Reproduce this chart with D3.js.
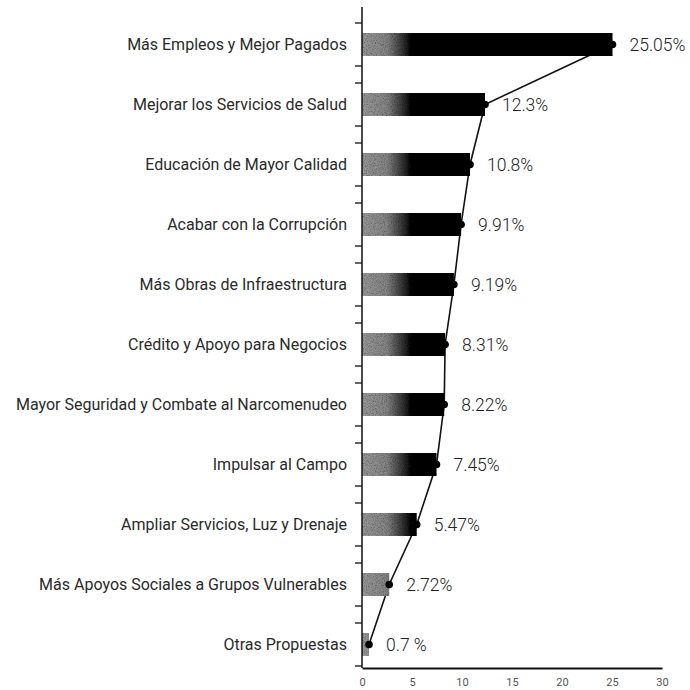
<!DOCTYPE html>
<html>
<head>
<meta charset="utf-8">
<script src="https://cdn.jsdelivr.net/npm/d3@7"></script>
<style>
  body { margin: 0; background: #fff; }
  text { font-family: Roboto, "Noto Sans", sans-serif; }
</style>
</head>
<body>
<svg id="chart" width="690" height="690"></svg>
<script>
var categories = [
  "Más Empleos y Mejor Pagados",
  "Mejorar los Servicios de Salud",
  "Educación de Mayor Calidad",
  "Acabar con la Corrupción",
  "Más Obras de Infraestructura",
  "Crédito y Apoyo para Negocios",
  "Mayor Seguridad y Combate al Narcomenudeo",
  "Impulsar al Campo",
  "Ampliar Servicios, Luz y Drenaje",
  "Más Apoyos Sociales a Grupos Vulnerables",
  "Otras Propuestas"
];
var values = [25.05, 12.3, 10.8, 9.91, 9.19, 8.31, 8.22, 7.45, 5.47, 2.72, 0.7];
var valueLabels = ["25.05%", "12.3%", "10.8%", "9.91%", "9.19%", "8.31%", "8.22%", "7.45%", "5.47%", "2.72%", "0.7 %"];
var xTicks = [0, 5, 10, 15, 20, 25, 30];

var data = categories.map(function(c, i) {
  return { cat: c, value: values[i], label: valueLabels[i] };
});

var svg = d3.select("#chart");
var m = { left: 362, right: 662, top: 14.5, bottom: 668 };

var x = d3.scaleLinear().domain([0, 30]).range([m.left, m.right]);
var y = d3.scaleBand().domain(categories).range([m.top, m.top + 60 * categories.length]).padding(0);
var barH = 23;
var cy = function(d) { return y(d.cat) + y.bandwidth() / 2; };

// gradient: speckled gray at the start of each bar, black after
var defs = svg.append("defs");
var grad = defs.append("linearGradient")
    .attr("id", "barGrad")
    .attr("gradientUnits", "userSpaceOnUse")
    .attr("x1", m.left).attr("x2", m.left + 50).attr("y1", 0).attr("y2", 0);
grad.append("stop").attr("offset", 0).attr("stop-color", "#9a9a9a");
grad.append("stop").attr("offset", 0.5).attr("stop-color", "#858585");
grad.append("stop").attr("offset", 1).attr("stop-color", "#050505");

// grainy scan look
var noise = defs.append("filter").attr("id", "grain")
    .attr("x", 0).attr("y", 0).attr("width", 1).attr("height", 1);
noise.append("feTurbulence").attr("type", "fractalNoise")
    .attr("baseFrequency", 0.9).attr("numOctaves", 2).attr("seed", 3).attr("result", "n");
noise.append("feColorMatrix").attr("in", "n").attr("type", "matrix")
    .attr("values", "0 0 0 0 0  0 0 0 0 0  0 0 0 0 0  0 0 0 -1.2 0.75").attr("result", "dots");
noise.append("feComposite").attr("in", "dots").attr("in2", "SourceGraphic").attr("operator", "in").attr("result", "d2");
noise.append("feMerge").selectAll("feMergeNode")
    .data(["SourceGraphic", "d2"]).enter()
    .append("feMergeNode").attr("in", function(d) { return d; });

// connecting line (behind bars)
var line = d3.line().x(function(d) { return x(d.value); }).y(cy);
svg.append("path")
    .datum(data)
    .attr("d", line)
    .attr("fill", "none")
    .attr("stroke", "#111")
    .attr("stroke-width", 1.6);

svg.selectAll("rect.bar")
    .data(data).enter()
    .append("rect")
    .attr("class", "bar")
    .attr("x", m.left)
    .attr("y", function(d) { return cy(d) - barH / 2; })
    .attr("width", function(d) { return x(d.value) - m.left; })
    .attr("height", barH)
    .attr("fill", "url(#barGrad)")
    .attr("filter", "url(#grain)");

svg.selectAll("circle.dot")
    .data(data).enter()
    .append("circle")
    .attr("class", "dot")
    .attr("cx", function(d) { return x(d.value); })
    .attr("cy", cy)
    .attr("r", 3.8)
    .attr("fill", "#000");

svg.selectAll("text.val")
    .data(data).enter()
    .append("text")
    .attr("class", "val")
    .attr("x", function(d) { return x(d.value) + 17; })
    .attr("y", cy)
    .attr("dy", "0.35em")
    .attr("font-size", 17.5)
    .attr("font-weight", 300)
    .attr("fill", "#222")
    .text(function(d) { return d.label; });

// y axis: line, category labels, a tick above and below each band
svg.append("line")
    .attr("x1", m.left).attr("x2", m.left)
    .attr("y1", 7).attr("y2", m.bottom)
    .attr("stroke", "#111").attr("stroke-width", 1.5);

var tickPos = [];
data.forEach(function(d) { tickPos.push(cy(d) - 21.5, cy(d) + 21.5); });
svg.selectAll("line.ytick")
    .data(tickPos).enter()
    .append("line")
    .attr("class", "ytick")
    .attr("x1", m.left - 7).attr("x2", m.left)
    .attr("y1", function(d) { return d; }).attr("y2", function(d) { return d; })
    .attr("stroke", "#111").attr("stroke-width", 1.3);

svg.selectAll("text.cat")
    .data(data).enter()
    .append("text")
    .attr("class", "cat")
    .attr("x", m.left - 15)
    .attr("y", cy)
    .attr("dy", "0.35em")
    .attr("text-anchor", "end")
    .attr("font-size", 16)
    .attr("fill", "#2a2a2a")
    .text(function(d) { return d.cat; });

// x axis
var xAxis = svg.append("g")
    .attr("transform", "translate(0," + m.bottom + ")")
    .call(d3.axisBottom(x).tickValues(xTicks).tickSize(0).tickPadding(10));
xAxis.select(".domain").attr("stroke", "#111").attr("stroke-width", 2);
xAxis.selectAll("text").attr("font-size", 11).attr("fill", "#555")
    .style("font-family", "Roboto, sans-serif");
</script>
</body>
</html>
